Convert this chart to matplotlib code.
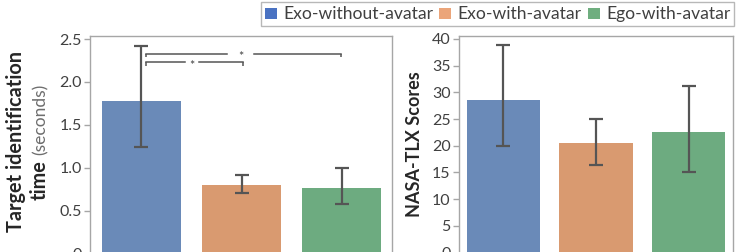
import matplotlib
matplotlib.use("Agg")
import matplotlib.pyplot as plt
from matplotlib.patches import Patch

categories = ["Exo-without-avatar", "Exo-with-avatar", "Ego-with-avatar"]
time_mean = [1.78, 0.80, 0.76]
time_low = [1.24, 0.70, 0.58]
time_high = [2.42, 0.92, 1.00]
tlx_mean = [28.5, 20.6, 22.6]
tlx_low = [20.0, 16.3, 15.1]
tlx_high = [38.8, 25.0, 31.2]
left_ticks = [0, 0.5, 1.0, 1.5, 2.0, 2.5]
left_ticklabels = ["0", "0.5", "1.0", "1.5", "2.0", "2.5"]
right_ticks = [0, 5, 10, 15, 20, 25, 30, 35, 40]

bar_colors = ["#6a8ab8", "#d99a70", "#6dab80"]
legend_colors = ["#4a72c2", "#eba57a", "#6fae7f"]

plt.rcParams['font.family'] = ['Lato', 'DejaVu Sans']

fig = plt.figure(figsize=(7.41, 2.52), dpi=100)
W, H = 741, 252

def axpos(x0, x1, ytop, ybot):
    return [x0 / W, 1 - ybot / H, (x1 - x0) / W, (ybot - ytop) / H]

ax1 = fig.add_axes(axpos(90, 392, 36, 253.5))
ax2 = fig.add_axes(axpos(459, 733, 36, 252.5))

spine_c = "#a6a6a6"
tick_c = "#404040"
err_c = "#555555"

def style(ax):
    for s in ax.spines.values():
        s.set_color(spine_c)
        s.set_linewidth(1.0)
    ax.tick_params(axis='y', colors=spine_c, labelcolor=tick_c, labelsize=11.5,
                   length=4, width=1.0, direction='out', pad=2)
    ax.tick_params(axis='x', bottom=False, labelbottom=False)

x = list(range(len(categories)))

# Left panel
err1 = [[m - l for m, l in zip(time_mean, time_low)], [h - m for m, h in zip(time_mean, time_high)]]
ax1.bar(x, time_mean, width=0.79, color=bar_colors, edgecolor="none")
ax1.errorbar(x, time_mean, yerr=err1, fmt='none', ecolor=err_c, elinewidth=1.6,
             capsize=5, capthick=1.6)
ax1.set_xlim(-0.51, 2.5)
ax1.set_ylim(0, 2.535)
ax1.set_yticks(left_ticks)
ax1.set_yticklabels(left_ticklabels)
style(ax1)

# significance brackets
bc = "#555555"
def bracket(ax, xa, xb, y, xs, gap, drop):
    ax.plot([xa, xa], [y - drop, y], color=bc, lw=1.1, solid_capstyle='butt')
    ax.plot([xb, xb], [y - drop, y], color=bc, lw=1.1, solid_capstyle='butt')
    ax.plot([xa, xs - gap], [y, y], color=bc, lw=1.1)
    ax.plot([xs + gap, xb], [y, y], color=bc, lw=1.1)
    ax.text(xs, y - 0.045, "*", ha='center', va='center', fontsize=9, color="#404040")

bracket(ax1, 0.05, 1.99, 2.33, 0.99, 0.13, 0.04)
bracket(ax1, 0.05, 1.01, 2.23, 0.51, 0.07, 0.04)

# Right panel
err2 = [[m - l for m, l in zip(tlx_mean, tlx_low)], [h - m for m, h in zip(tlx_mean, tlx_high)]]
ax2.bar(x, tlx_mean, width=0.795, color=bar_colors, edgecolor="none")
ax2.errorbar(x, tlx_mean, yerr=err2, fmt='none', ecolor=err_c, elinewidth=1.6,
             capsize=5, capthick=1.6)
ax2.set_xlim(-0.48, 2.48)
ax2.set_ylim(0, 40.56)
ax2.set_yticks(right_ticks)
style(ax2)

def fit(t, target, vertical=True):
    for _ in range(3):
        fig.canvas.draw()
        bb = t.get_window_extent()
        cur = bb.height if vertical else bb.width
        t.set_fontsize(t.get_fontsize() * target / cur)

# y labels
lab_c = "#262626"
t1 = fig.text(16 / W, 1 - 141.5 / H, "Target identification", rotation=90, ha='center',
              va='center', fontsize=12.5, fontweight='bold', color=lab_c)
fit(t1, 181)
t2 = fig.text(40 / W, 1 - 200 / H, "time", rotation=90, ha='center', va='bottom',
              fontsize=t1.get_fontsize(), fontweight='bold', color=lab_c)
fig.canvas.draw()
time_len = t2.get_window_extent().height
start = 200 - time_len - 5
t3 = fig.text(41 / W, 1 - start / H, "(seconds)", rotation=90, ha='center', va='bottom',
              fontsize=10, color="#6e6e6e")
fit(t3, start - 84)
t4 = fig.text(415 / W, 1 - 144 / H, "NASA-TLX Scores", rotation=90, ha='center', va='center',
              fontsize=12.5, fontweight='bold', color=lab_c)
fit(t4, 146)

# legend
handles = [Patch(facecolor=c, edgecolor='none', label=l) for c, l in zip(legend_colors, categories)]
leg = fig.legend(handles=handles, loc='upper right', bbox_to_anchor=(734 / W, 1 - 2 / H),
                 ncol=3, frameon=True, fancybox=False, fontsize=11, handlelength=0.8,
                 handleheight=0.8, handletextpad=0.4, columnspacing=0.4, borderpad=0.25,
                 borderaxespad=0)
leg.get_frame().set_edgecolor("#a6a6a6")
leg.get_frame().set_linewidth(1.0)
for t in leg.get_texts():
    t.set_color("#404040")
for _ in range(3):
    fig.canvas.draw()
    w = leg.get_window_extent().width
    fs = leg.get_texts()[0].get_fontsize() * 472 / w
    for t in leg.get_texts():
        t.set_fontsize(fs)
    leg.prop.set_size(fs)
    leg._fontsize = fs

fig.savefig("out.png", dpi=100)
